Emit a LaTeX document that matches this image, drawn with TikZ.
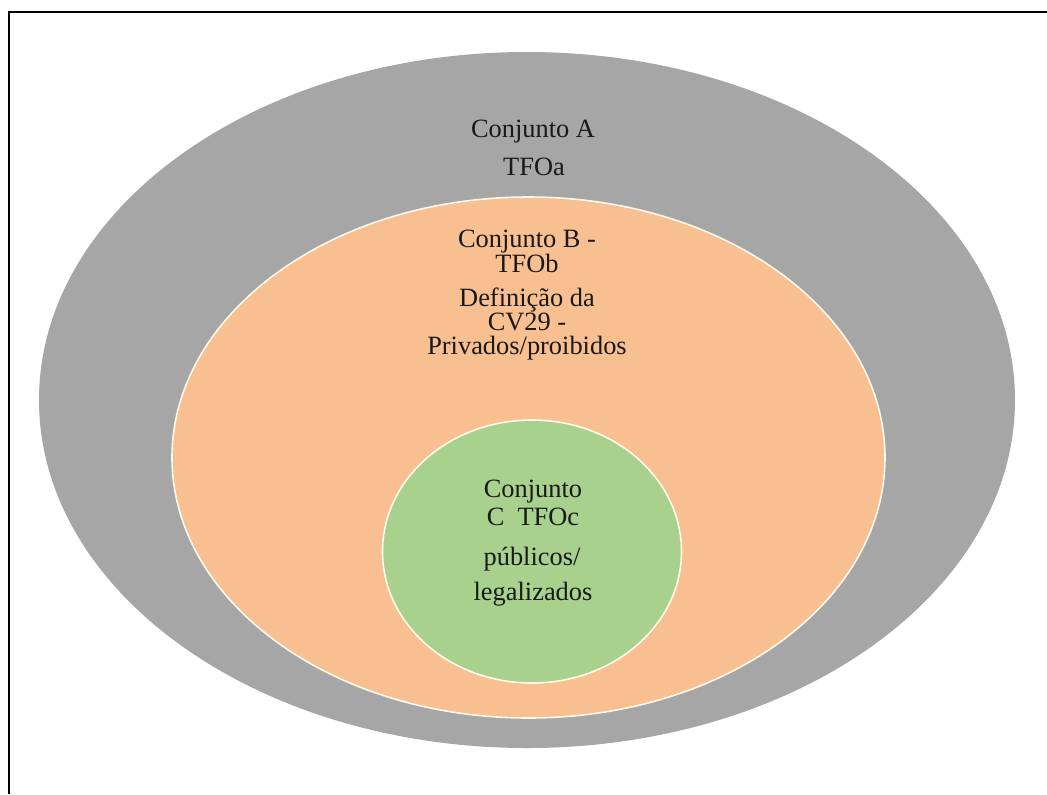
\documentclass[tikz,border=0pt]{standalone}
\usepackage{fontspec}
\setmainfont{Liberation Serif}
\definecolor{setA}{HTML}{A6A6A6}
\definecolor{setB}{HTML}{F8BF90}
\definecolor{setC}{HTML}{A9D18E}
\definecolor{rimwhite}{HTML}{FFF8EC}
\begin{document}
\begin{tikzpicture}[x=0.75pt,y=-0.75pt,
  frameline/.style={draw=black,line width=1.5pt},
  % base anchor of a multi-line label sits on its last line
  setlabel/.style={anchor=base,inner sep=0pt,align=center,text=black!90},
  tight/.style={font=\fontsize{19.8}{#1}\selectfont}]
\useasboundingbox (0,0) rectangle (1047,794);
\fill[white] (0,0) rectangle (1047,794);
% frame lines along the top and left edges
\coordinate (fbl) at (9,794);
\coordinate (ftl) at (9,12);
\coordinate (ftr) at (1047,12);
\draw[frameline] (fbl) -- (ftl) -- (ftr);
% nested sets
\fill[setA] (527,400) ellipse [x radius=488, y radius=348];
\filldraw[fill=setB,draw=rimwhite,line width=1.2pt] (528.5,457.5) ellipse [x radius=356.5, y radius=260.5];
\filldraw[fill=setC,draw=rimwhite,line width=1.2pt] (532,551.5) ellipse [x radius=149.5, y radius=131.5];
% set A
\node[setlabel,tight=22pt] (a1) at (533,137) {Conjunto A};
\node[setlabel,tight=22pt] (a2) at (534,175) {TFOa};
% set B
\node[setlabel,tight=18.75pt] (b1) at (527,272) {Conjunto B -\\TFOb};
\node[setlabel,tight=18pt] (b2) at (527,354) {Definição da\\CV29 -\\Privados/proibidos};
% set C
\node[setlabel,tight=21pt] (c1) at (533,525) {Conjunto\\C\ \ TFOc};
\node[setlabel,tight=22pt] (c3) at (532,565) {públicos/};
\node[setlabel,tight=22pt] (c4) at (533,600) {legalizados};
\end{tikzpicture}
\end{document}
